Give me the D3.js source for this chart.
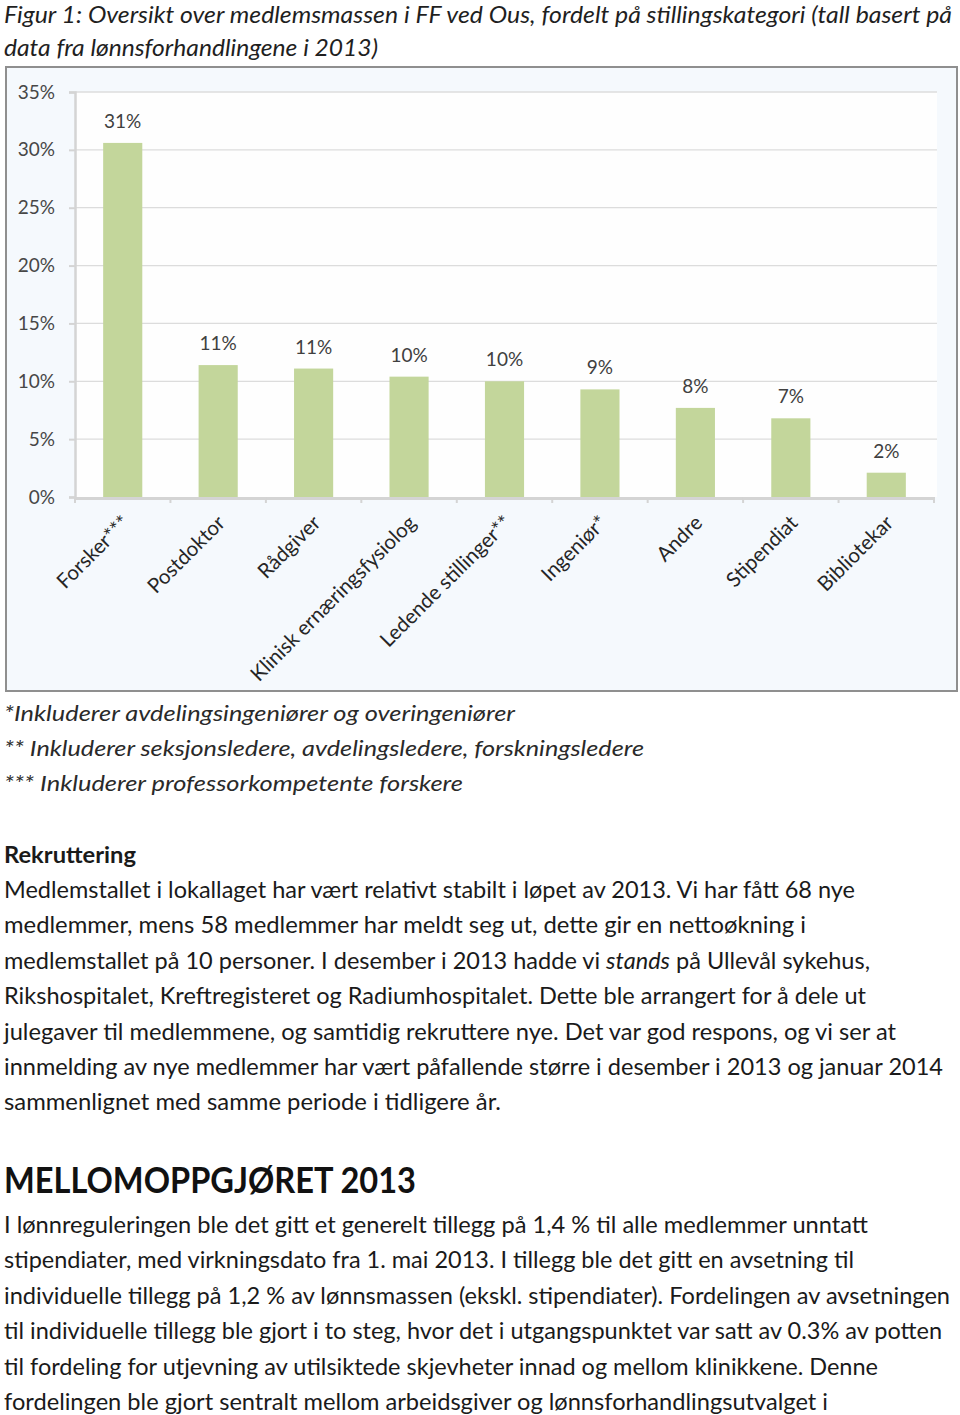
<!DOCTYPE html>
<html><head><meta charset="utf-8">
<script src="https://cdn.jsdelivr.net/npm/d3@7"></script>
<style>
html,body{margin:0;padding:0;background:#fff;}
svg{display:block;}
</style></head>
<body>
<svg id="page" width="960" height="1415"></svg>
<script>
// ---- Chart data ----
const categories = ["Forsker***","Postdoktor","Rådgiver","Klinisk ernæringsfysiolog","Ledende stillinger**","Ingeniør*","Andre","Stipendiat","Bibliotekar"];
const values = [30.6, 11.4, 11.1, 10.4, 10.0, 9.3, 7.7, 6.8, 2.1];
const yTicks = [0, 5, 10, 15, 20, 25, 30, 35];

// ---- Page text ----
const titleLines = [
  "Figur 1: Oversikt over medlemsmassen i FF ved Ous, fordelt på stillingskategori (tall basert på",
  "data fra lønnsforhandlingene i 2013)"
];
const titleEnds = [952, 378];
const footnotes = [
  "*Inkluderer avdelingsingeniører og overingeniører",
  "** Inkluderer seksjonsledere, avdelingsledere, forskningsledere",
  "*** Inkluderer professorkompetente forskere"
];
const footnoteEnds = [515, 644, 463];
const para1 = [
  "Medlemstallet i lokallaget har vært relativt stabilt i løpet av 2013. Vi har fått 68 nye",
  "medlemmer, mens 58 medlemmer har meldt seg ut, dette gir en nettoøkning i",
  "medlemstallet på 10 personer. I desember i 2013 hadde vi |stands| på Ullevål sykehus,",
  "Rikshospitalet, Kreftregisteret og Radiumhospitalet. Dette ble arrangert for å dele ut",
  "julegaver til medlemmene, og samtidig rekruttere nye. Det var god respons, og vi ser at",
  "innmelding av nye medlemmer har vært påfallende større i desember i 2013 og januar 2014",
  "sammenlignet med samme periode i tidligere år."
];
const para1Ends = [855, 806, 870, 866, 896, 943, 501];
const para2 = [
  "I lønnreguleringen ble det gitt et generelt tillegg på 1,4 % til alle medlemmer unntatt",
  "stipendiater, med virkningsdato fra 1. mai 2013. I tillegg ble det gitt en avsetning til",
  "individuelle tillegg på 1,2 % av lønnsmassen (ekskl. stipendiater). Fordelingen av avsetningen",
  "til individuelle tillegg ble gjort i to steg, hvor det i utgangspunktet var satt av 0.3% av potten",
  "til fordeling for utjevning av utilsiktede skjevheter innad og mellom klinikkene. Denne",
  "fordelingen ble gjort sentralt mellom arbeidsgiver og lønnsforhandlingsutvalget i"
];
const para2Ends = [868, 854, 950, 942, 878, 828];

const svg = d3.select("#page");
const FONT = "Lato, 'Open Sans', sans-serif";
const LEFT = 4;

function fitText(sel, right) {
  sel.attr("textLength", right - LEFT).attr("lengthAdjust", "spacingAndGlyphs");
}

// Title
titleLines.forEach((t, i) => {
  svg.append("text").attr("x", LEFT).attr("y", 23 + i * 33)
    .attr("font-family", FONT).attr("font-style", "italic").attr("font-size", 23)
    .attr("fill", "#1f1f1f").text(t).call(fitText, titleEnds[i]);
});

// ---- Chart ----
const frame = {x: 6, y: 67, w: 951, h: 624};
svg.append("rect").attr("x", frame.x).attr("y", frame.y).attr("width", frame.w).attr("height", frame.h)
  .attr("fill", "#f5f9fd").attr("stroke", "#8f8f8f").attr("stroke-width", 2);

const plot = {left: 75, right: 934, top: 92, bottom: 497};
svg.append("rect").attr("x", plot.left).attr("y", plot.top)
  .attr("width", 937 - plot.left).attr("height", plot.bottom - plot.top).attr("fill", "#fefefe");

const x = d3.scaleBand().domain(categories).range([plot.left, plot.right]).paddingInner(0.59).paddingOuter(0.295);
const y = d3.scaleLinear().domain([0, 35]).range([plot.bottom, plot.top]);

// Gridlines
svg.append("g").selectAll("line").data(yTicks.filter(d => d > 0)).join("line")
  .attr("x1", plot.left).attr("x2", 937)
  .attr("y1", d => y(d)).attr("y2", d => y(d))
  .attr("stroke", "#dcdcdc").attr("stroke-width", 1.3);

// Y axis
const yAxis = svg.append("g").attr("transform", `translate(${plot.left},0)`)
  .call(d3.axisLeft(y).tickValues(yTicks).tickSize(6).tickPadding(14).tickFormat(d => d + "%"));
yAxis.select(".domain").attr("stroke", "#d4d4d4").attr("stroke-width", 2.5);
yAxis.selectAll(".tick line").attr("stroke", "#d4d4d4").attr("stroke-width", 2);
yAxis.selectAll(".tick text").attr("font-family", FONT).attr("font-size", 19).attr("fill", "#474747");

// Bars
svg.append("g").selectAll("rect").data(values).join("rect")
  .attr("x", (d, i) => x(categories[i]))
  .attr("width", x.bandwidth())
  .attr("y", d => y(d))
  .attr("height", d => y(0) - y(d))
  .attr("fill", "#c3d69b");

// Value labels
svg.append("g").selectAll("text").data(values).join("text")
  .attr("x", (d, i) => x(categories[i]) + x.bandwidth() / 2)
  .attr("y", d => y(d) - 15)
  .attr("text-anchor", "middle")
  .attr("font-family", FONT).attr("font-size", 19).attr("fill", "#404040")
  .text(d => Math.round(d) + "%");

// X axis
const step = x.step();
const xAxisG = svg.append("g");
xAxisG.append("line").attr("x1", plot.left).attr("x2", plot.right)
  .attr("y1", plot.bottom + 1.5).attr("y2", plot.bottom + 1.5)
  .attr("stroke", "#d4d4d4").attr("stroke-width", 3);
const boundaries = d3.range(categories.length + 1).map(i => plot.left + i * step);
xAxisG.selectAll("line.tk").data(boundaries).join("line").attr("class", "tk")
  .attr("x1", d => d).attr("x2", d => d)
  .attr("y1", plot.bottom).attr("y2", plot.bottom + 6)
  .attr("stroke", "#d4d4d4").attr("stroke-width", 2);

// Category labels (rotated)
xAxisG.selectAll("text.cat").data(categories).join("text").attr("class", "cat")
  .attr("transform", d => `translate(${x(d) + x.bandwidth() / 2 - 2},${plot.bottom + 17}) rotate(-45)`)
  .attr("text-anchor", "end")
  .attr("dy", "0.7em")
  .attr("font-family", FONT).attr("font-size", 20.5).attr("fill", "#262626")
  .text(d => d);

// ---- Footnotes ----
footnotes.forEach((t, i) => {
  svg.append("text").attr("x", LEFT).attr("y", 721 + i * 35)
    .attr("font-family", FONT).attr("font-style", "italic").attr("font-size", 22)
    .attr("fill", "#2a2a2a").text(t).call(fitText, footnoteEnds[i]);
});

// Heading Rekruttering
svg.append("text").attr("x", LEFT).attr("y", 863)
  .attr("font-family", FONT).attr("font-weight", "bold").attr("font-size", 22)
  .attr("fill", "#1a1a1a").text("Rekruttering").call(fitText, 136);

function bodyLine(t, yy, end) {
  const txt = svg.append("text").attr("x", LEFT).attr("y", yy)
    .attr("font-family", FONT).attr("font-size", 23).attr("fill", "#1a1a1a");
  const parts = t.split("|");
  parts.forEach((p, k) => {
    const ts = txt.append("tspan").text(p);
    if (k % 2 === 1) ts.attr("font-style", "italic");
  });
  txt.call(fitText, end);
}

para1.forEach((t, i) => bodyLine(t, 898 + i * 35.4, para1Ends[i]));

svg.append("text").attr("x", LEFT).attr("y", 1193)
  .attr("font-family", FONT).attr("font-weight", "bold").attr("font-size", 36)
  .attr("fill", "#111").text("MELLOMOPPGJØRET 2013").call(fitText, 416);

para2.forEach((t, i) => bodyLine(t, 1233 + i * 35.4, para2Ends[i]));
</script>
</body></html>
